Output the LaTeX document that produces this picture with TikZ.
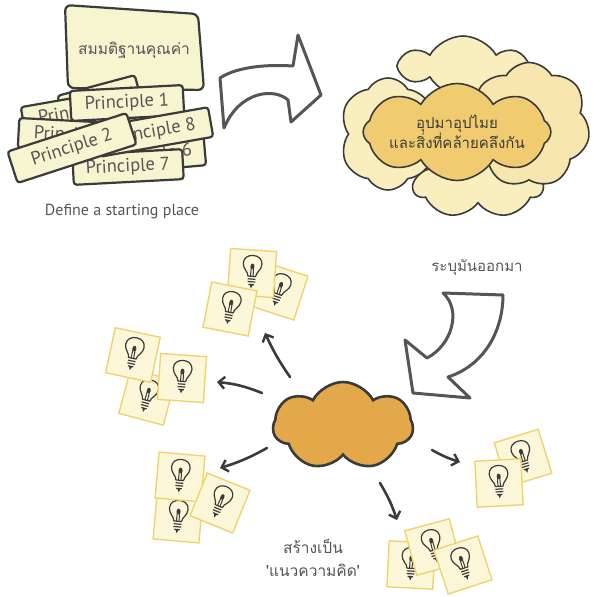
\documentclass[tikz,border=0pt]{standalone}
\usepackage{fontspec}
\setmainfont{PT Sans}
\newfontfamily\thaifont[Script=Thai]{Loma}
\usetikzlibrary{shapes.symbols,arrows.meta}
\definecolor{ink}{HTML}{3B3B3B}
\definecolor{softink}{HTML}{555555}
\definecolor{paper}{HTML}{F7F4D0}
\definecolor{puff}{HTML}{F9EEBE}
\definecolor{puffdeep}{HTML}{F1CB70}
\definecolor{core}{HTML}{E3A84A}
\definecolor{notefill}{HTML}{FCF7D9}
\definecolor{noteedge}{HTML}{EFD46E}

\tikzset{
  principle/.style={draw=ink, fill=paper, line width=2.2pt, rounded corners=3pt,
    minimum height=30pt, minimum width=115pt, inner sep=2pt,
    font=\fontsize{18.5}{18.5}\selectfont, text=softink},
  puffcloud/.style={cloud, cloud ignores aspect, cloud puffs=7, cloud puff arc=120,
    draw=ink, line width=1.6pt, fill=puff, inner sep=0pt},
  fatarrow/.style={draw=softink, line width=3pt, fill=white, line join=round},
  spark/.style={draw=ink, line width=2.6pt, line cap=round,
    -{Straight Barb[length=6pt,width=12pt,line width=2.4pt]}},
  label/.style={text=softink, font=\fontsize{16}{18}\selectfont},
  note/.pic={
    \path[draw=noteedge, fill=notefill, line width=1.4pt] (-23,-23) rectangle (23,23);
    \begin{scope}[scale=1.1]
    \draw[ink, line width=1.2pt, line join=round]
      (-3.5,3) .. controls (-3.5,-1) and (-8.5,-3) .. (-8.5,-8.5)
      .. controls (-8.5,-13.5) and (-4.5,-16) .. (0,-16)
      .. controls (4.5,-16) and (8.5,-13.5) .. (8.5,-8.5)
      .. controls (8.5,-3) and (3.5,-1) .. (3.5,3) -- cycle;
    \draw[ink, line width=1.2pt] (-3.5,5.5) -- (3.5,5.5) (-3.5,8) -- (3.5,8)
      (-2.5,10.5) -- (2.5,10.5);
    \fill[ink] (-1.5,10.5) -- (1.5,10.5) -- (0,14) -- cycle;
    \draw[ink, line width=1pt] (-1.2,3) -- (-1,-6) (1.2,3) -- (1,-6);
    \fill[ink] (0,-6) ellipse (1.8 and 2.6);
    \end{scope}
  }
}

\begin{document}
\begin{tikzpicture}[x=1pt,y=-1pt]
\useasboundingbox (0,0) rectangle (592,597);

% ---- starting place: value card and principle cards ----
\draw[draw=ink, fill=paper, line width=2.2pt, rounded corners=6pt]
  (65,5) -- (198,14) -- (204,90) -- (68,88) -- cycle;
\node[text=softink, font=\thaifont\fontsize{15.5}{17}\selectfont] (value) at (134,50) {สมมติฐานคุณค่า};

\node[principle, minimum width=80pt, rotate=15] (peek) at (100,100) {};
\node[principle, rotate=10] (p3) at (80,112) {Principle 3};
\node[principle, rotate=-3] (p4) at (76,136) {Principle 4};
\node[principle, minimum width=113pt, rotate=3] (p1) at (127,103) {Principle 1};
\node[principle, minimum width=110pt, rotate=5] (p6) at (150,155) {Principle 6};
\node[principle, minimum width=110pt, rotate=3] (p7) at (128,167) {Principle 7};
\node[principle, minimum width=115pt, rotate=10] (p8) at (154,132) {Principle 8};
\node[principle, minimum width=125pt, minimum height=33pt, rotate=18] (p2) at (72,148) {Principle 2};

\node[label] (start) at (122,212) {Define a starting place};

% ---- first fat arrow ----
\draw[fatarrow] (220,78) .. controls (235,68) and (262,64) .. (293,66)
  -- (298,35) -- (321,95) -- (291,122) -- (288,100)
  .. controls (275,88) and (240,90) .. (224,128) -- cycle;

% ---- analogies cloud cluster ----
\node[puffcloud, cloud puffs=6, minimum width=122pt, minimum height=60pt] (cA) at (463,66) {};
\node[puffcloud, minimum width=128pt, minimum height=60pt] (cB) at (478,188) {};
\node[puffcloud, cloud puffs=6, minimum width=98pt, minimum height=112pt] (cC) at (388,134) {};
\node[puffcloud, minimum width=122pt, minimum height=125pt, fill=puff!80!puffdeep] (cD) at (529,125) {};
\node[puffcloud, cloud puffs=8, fill=puffdeep, minimum width=170pt, minimum height=97pt,
  align=center, text=ink, font=\thaifont\fontsize{15}{19}\selectfont] (analog) at (457,132)
  {อุปมาอุปไมย\\และสิ่งที่คล้ายคลึงกัน};

% ---- second fat arrow ----
\node[label, font=\thaifont\fontsize{15}{17}\selectfont] (name) at (477,267) {ระบุมันออกมา};
\draw[fatarrow] (443,293) -- (503,295) .. controls (503,330) and (485,365) .. (448,377)
  -- (470,398) -- (413,393) -- (405,340) -- (427,358)
  .. controls (452,345) and (462,310) .. (443,293) -- cycle;

% ---- core idea cloud ----
\node[cloud, cloud ignores aspect, cloud puffs=7, cloud puff arc=125, draw=ink,
  line width=2.6pt, fill=core, minimum width=140pt, minimum height=88pt] (core) at (343,426) {};

% ---- idea notes ----
\pic[rotate=-18] (nA1) at (279,291) {note};
\pic[rotate=-4]  (nA2) at (252,273) {note};
\pic[rotate=-11] (nA3) at (230,309) {note};

\pic[rotate=-15] (nB1) at (147,397) {note};
\pic[rotate=-12] (nB2) at (133,355) {note};
\pic[rotate=-4]  (nB3) at (182,378) {note};

\pic[rotate=-5]  (nC1) at (178,518) {note};
\pic[rotate=-5]  (nC2) at (180,477) {note};
\pic[rotate=-22] (nC3) at (220,503) {note};

\pic[rotate=-3]  (nD1) at (411,565) {note};
\pic[rotate=15]  (nD2) at (433,547) {note};
\pic[rotate=18]  (nD3) at (463,565) {note};

\pic[rotate=17]  (nE1) at (523,458) {note};
\pic[rotate=3]   (nE2) at (499,483) {note};

% ---- sparks from the core ----
\coordinate (sA) at (290,377);  \coordinate (eA) at (265,333);
\coordinate (sB) at (262,393);  \coordinate (eB) at (217,382);
\coordinate (sC) at (267,448);  \coordinate (eC) at (220,468);
\coordinate (sD) at (380,483);  \coordinate (eD) at (397,520);
\coordinate (sE) at (432,450);  \coordinate (eE) at (460,462);
\draw[spark] (sA) to[bend left=5] (eA);
\draw[spark] (sB) to[bend right=8] (eB);
\draw[spark] (sC) to[bend left=6] (eC);
\draw[spark] (sD) to[bend left=6] (eD);
\draw[spark] (sE) to[bend right=6] (eE);

\node[label, align=center, font=\thaifont\fontsize{15.5}{23}\selectfont] (concept) at (313,558)
  {สร้างเป็น\\'แนวความคิด'};
\end{tikzpicture}
\end{document}
